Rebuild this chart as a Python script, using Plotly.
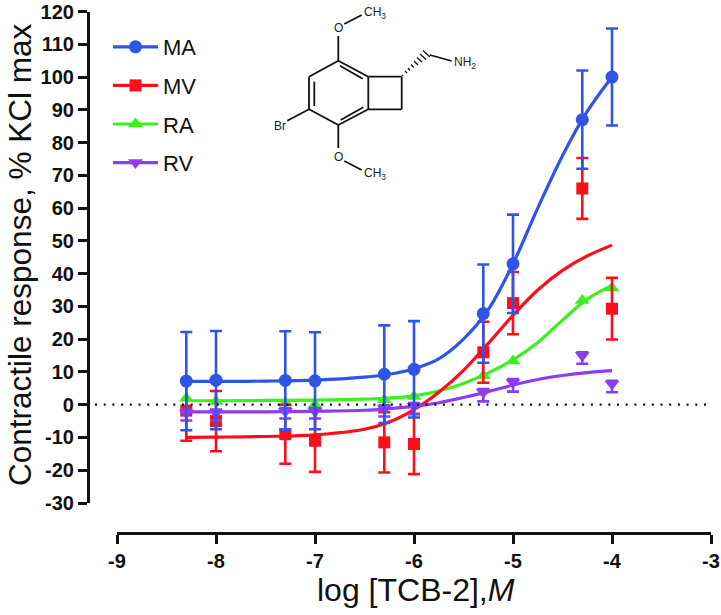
import plotly.graph_objects as go

W, H = 721, 615

# ---------- data ----------
dose_x = [-8.3, -8, -7.3, -7, -6.3, -6, -5.3, -5, -4.3, -4]
ma_y = [7.2, 7.5, 7.4, 7.3, 9.3, 10.8, 27.8, 43, 87, 100]
ma_err = [15, 15, 15, 14.8, 14.9, 14.7, 15, 15, 15, 14.8]
mv_y = [-1.8, -5, -9, -11, -11.5, -12, 16, 31, 66, 29.3]
mv_err = [9.2, 9.2, 9, 9.5, 9.2, 9.2, 9.3, 9.5, 9.3, 9.4]
ra_y = [2, 1, 0.5, 0, 1.5, 2.5, 8.8, 13.3, 31.8, 35.6]
rv_y = [-2.5, -2.5, -2, -2, -1.2, -0.5, 3.8, 6.8, 15, 6.3]
rv_err_up = [1, 1, 1, 1, 1, 1, 1, 1, 1, 1]
rv_err_down = [2.3, 2.3, 2.2, 2.2, 2.4, 2.4, 2.8, 2.8, 2.5, 2.5]

curve_x = [-8.3, -8, -7.5, -7, -6.5, -6.25, -6, -5.75, -5.5, -5.25, -5, -4.75, -4.5, -4.25, -4]
ma_curve = [7.1, 7.1, 7.2, 7.5, 8.4, 9.3, 11, 14, 20, 29, 43, 60, 76, 89.5, 100]
mv_curve = [-10, -9.9, -9.7, -9.2, -7.5, -5.3, -1.5, 3.8, 10.5, 18.7, 27.3, 35, 41, 45.4, 48.7]
ra_curve = [1.2, 1.2, 1.3, 1.4, 1.7, 2, 2.7, 4.2, 6.5, 9.7, 13.7, 19, 25.8, 32.2, 36.4]
rv_curve = [-2.2, -2.2, -2.2, -2, -1.7, -1.2, -0.5, 0.6, 2.2, 4, 6, 7.7, 8.9, 9.8, 10.4]

x_ticks = [-9, -8, -7, -6, -5, -4, -3]
y_ticks = list(range(-30, 130, 10))

BLUE, RED, GREEN, PURPLE = "#2f55e8", "#ff0d1a", "#3cf01e", "#8f3cf0"
FONT = "Liberation Sans"

# series in drawing order (back to front): name, points, errors up/down, curve, colour, symbol, legend rank
series = [
    ("RA", ra_y, None, None, ra_curve, GREEN, "triangle-up", 3, 13),
    ("MV", mv_y, mv_err, mv_err, mv_curve, RED, "square", 2, 12),
    ("RV", rv_y, rv_err_up, rv_err_down, rv_curve, PURPLE, "triangle-down", 4, 13),
    ("MA", ma_y, ma_err, ma_err, ma_curve, BLUE, "circle", 1, 13),
]

fig = go.Figure()
for name, ys, up, down, curve, col, sym, rank, size in series:
    fig.add_trace(go.Scatter(
        x=curve_x, y=curve, mode="lines", showlegend=False, hoverinfo="skip",
        line=dict(color=col, width=3.2, shape="spline", smoothing=1.0)))
    err = dict(visible=False) if up is None else dict(
        type="data", symmetric=False, array=up, arrayminus=down, color=col, thickness=2.6, width=6)
    fig.add_trace(go.Scatter(
        x=dose_x, y=ys, mode="markers", showlegend=False, name=name,
        marker=dict(color=col, symbol=sym, size=size), error_y=err))
    fig.add_trace(go.Scatter(
        x=[None], y=[None], mode="lines+markers", name=name, legendrank=rank,
        legendgroup=name, line=dict(color=col, width=3.2),
        marker=dict(color=col, symbol=sym, size=size)))

AX_X, AX_R = 117 / W, 711 / W
Y_TOP, Y_BOT = 1 - 11.5 / H, 1 - 503 / H


def px(x, y):
    return x / W, 1 - y / H


def seg(a, b, c, d, width=1.8):
    return dict(type="line", xref="paper", yref="paper",
                x0=px(a, b)[0], y0=px(a, b)[1], x1=px(c, d)[0], y1=px(c, d)[1],
                line=dict(color="#111111", width=width))


# ---------- inset molecule (pixel outline of the structural formula) ----------
bonds = [
    (338.3, 36, 338.3, 60.7), (338.3, 60.7, 309, 76.7), (309, 76.7, 309, 109.3),
    (314.3, 81.7, 314.3, 106), (309, 109.3, 338.3, 125), (338.3, 125, 368.3, 109.3),
    (340.7, 120, 363.3, 107.3), (368.3, 109.3, 368.3, 76.7), (368.3, 76.7, 338.3, 60.7),
    (362.7, 78.7, 340, 65.7), (368.3, 76.7, 401.7, 76.7), (401.7, 76.7, 401.7, 109.3),
    (401.7, 109.3, 368.3, 109.3), (338.3, 125, 338.3, 148), (309, 109.3, 287.3, 120.7),
    (344.3, 24, 361.7, 15), (344.3, 161, 361.7, 170), (430, 55, 451.7, 61),
]
shapes = [seg(*b) for b in bonds]
# hashed wedge from ring carbon to the side chain
hashes = [(402, 75, 403, 76), (405, 71, 407, 73), (408, 68, 410, 70.5), (411, 64.5, 414, 67.5),
          (414, 61, 418, 65), (417, 57.5, 422, 62), (420, 54, 426, 59.5), (423, 50.5, 430, 57)]
shapes += [seg(*h, width=1.3) for h in hashes]
# dotted zero line
shapes.append(dict(type="line", xref="paper", yref="y", x0=95 / W, x1=706 / W, y0=0, y1=0,
                   line=dict(color="#111111", width=2.2, dash="2px,6.7px")))

mol_text = [
    (338.3, 28, "O"), (338.3, 157, "O"), (280, 125.7, "Br"),
    (375, 12.7, "CH<sub>3</sub>"), (375, 174, "CH<sub>3</sub>"), (465, 62.7, "NH<sub>2</sub>"),
]
annotations = [dict(x=px(a, b)[0], y=px(a, b)[1], xref="paper", yref="paper", text=t,
                    showarrow=False, xanchor="center", yanchor="middle",
                    font=dict(family=FONT, size=12, color="#222222")) for a, b, t in mol_text]
# axis titles
annotations.append(dict(x=px(416, 590)[0], y=px(416, 590)[1], xref="paper", yref="paper",
                        text="log [TCB-2],<i>M</i>", showarrow=False, xanchor="center", yanchor="middle",
                        font=dict(family=FONT, size=32, color="#111111")))
annotations.append(dict(x=px(20, 255)[0], y=px(20, 255)[1], xref="paper", yref="paper",
                        text="Contractile response, % KCl max", showarrow=False, textangle=-90,
                        xanchor="center", yanchor="middle",
                        font=dict(family=FONT, size=31.5, color="#111111")))

fig.update_layout(
    width=W, height=H, autosize=False, margin=dict(l=0, r=0, t=0, b=0, autoexpand=False),
    paper_bgcolor="white", plot_bgcolor="white",
    font=dict(family=FONT, color="#111111"),
    shapes=shapes, annotations=annotations,
    legend=dict(x=108 / W, y=1 - 26 / H, xanchor="left", yanchor="top",
                bgcolor="rgba(0,0,0,0)", borderwidth=0, font=dict(size=22, family=FONT, color="#111111"),
                tracegroupgap=7, itemwidth=45, traceorder="grouped"),
    xaxis=dict(domain=[AX_X, AX_R], range=[-9, -3], anchor="free", position=1 - 533 / H, automargin=False,
               tickmode="array", tickvals=x_ticks, ticktext=[str(v) for v in x_ticks],
               showgrid=False, zeroline=False, showline=True, linecolor="#111111", linewidth=3.2,
               ticks="outside", ticklen=9, tickwidth=3, tickcolor="#111111",
               tickfont=dict(family=FONT, size=20, color="#111111", weight="bold")),
    yaxis=dict(domain=[Y_BOT, Y_TOP], range=[-30, 120], anchor="free", position=88 / W, automargin=False,
               tickmode="array", tickvals=y_ticks, ticktext=[str(v) for v in y_ticks],
               showgrid=False, zeroline=False, showline=True, linecolor="#111111", linewidth=3.2,
               ticks="outside", ticklen=9, tickwidth=3, tickcolor="#111111",
               tickfont=dict(family=FONT, size=20, color="#111111", weight="bold")),
)
fig.write_html("out.html", config=dict(displayModeBar=False), post_script="document.body.style.margin='0';")
